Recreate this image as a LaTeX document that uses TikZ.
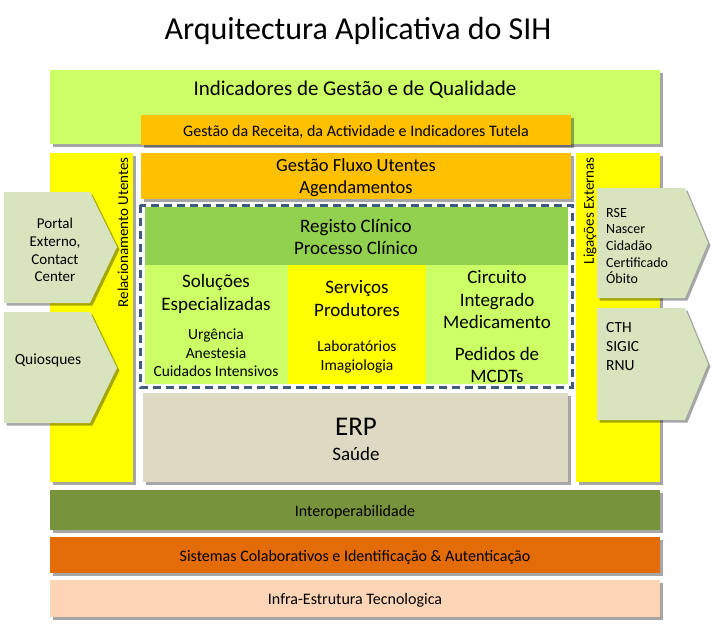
\documentclass[tikz,border=0pt]{standalone}
\usepackage{fontspec}
\setmainfont{Carlito}
\usetikzlibrary{shadows}
\definecolor{lgreen}{HTML}{CCFF66}
\definecolor{gold}{HTML}{FFC000}
\definecolor{yel}{HTML}{FFFF00}
\definecolor{mgreen}{HTML}{92D050}
\definecolor{erpc}{HTML}{DDD9C3}
\definecolor{olivec}{HTML}{77933C}
\definecolor{orngc}{HTML}{E36C09}
\definecolor{peachc}{HTML}{FBD5B5}
\definecolor{sagec}{HTML}{D7E4BD}
\definecolor{dashblue}{HTML}{3F5A80}
\begin{document}
\begin{tikzpicture}[x=1pt,y=-1pt,
  shd/.style={drop shadow={shadow xshift=2.5pt,shadow yshift=-2.5pt,opacity=0.35,fill=black}},
  box/.style={anchor=north west, inner sep=0pt, outer sep=0pt, draw=none},
  sbox/.style={box, shd},
  rtxt/.style={inner sep=0pt, align=center, text=black},
  txt/.style={rtxt, yshift=-2pt},
  fsmall/.style={font=\fontsize{16}{19}\selectfont},
  fside/.style={font=\fontsize{15}{18}\selectfont},
  fmid/.style={font=\fontsize{18.5}{22}\selectfont},
  arrowshape/.style={fill=sagec, shd}
]
\useasboundingbox (0,0) rectangle (719,627);

% title
\node[txt, font=\fontsize{32}{36}\selectfont] (title) at (358,29) {Arquitectura Aplicativa do SIH};

% side columns
\node[sbox, fill=yel, minimum width=83pt, minimum height=329pt] (lcol) at (50,153) {};
\node[sbox, fill=yel, minimum width=84pt, minimum height=329pt] (rcol) at (576,153) {};
\node[rtxt, fside, rotate=90, anchor=east] (rel) at (123,157) {Relacionamento Utentes};
\node[rtxt, fside, rotate=90, anchor=east] (lig) at (590,157) {Ligações Externas};

% top
\node[sbox, fill=lgreen, minimum width=610pt, minimum height=74pt] (ind) at (50,70) {};
\node[txt, font=\fontsize{21}{24}\selectfont] (indt) at (355,88) {Indicadores de Gestão e de Qualidade};
\node[sbox, fill=gold, minimum width=430pt, minimum height=30pt] (rec) at (141,115) {};
\node[txt, fsmall] (rect) at (356,130) {Gestão da Receita, da Actividade e Indicadores Tutela};

\node[sbox, fill=gold, minimum width=430pt, minimum height=46pt] (flux) at (141,153) {};
\node[txt, fmid] (fluxt) at (356,176) {Gestão Fluxo Utentes\\Agendamentos};

% clinical block
\node[box, fill=white, minimum width=432pt, minimum height=182pt] (clinbg) at (140,205) {};
\node[box, fill=mgreen, minimum width=423pt, minimum height=58pt] (reg) at (145,207) {};
\node[txt, font=\fontsize{19}{22}\selectfont] (regt) at (356,235) {Registo Clínico\\Processo Clínico};
\node[box, fill=lgreen, minimum width=143pt, minimum height=119pt] (sol) at (145,265) {};
\node[box, fill=yel, minimum width=138pt, minimum height=119pt] (serv) at (288,265) {};
\node[box, fill=lgreen, minimum width=142pt, minimum height=119pt] (circ) at (426,265) {};
\node[txt, font=\fontsize{19}{23}\selectfont] (solt) at (216,292) {Soluções\\Especializadas};
\node[txt, font=\fontsize{15.5}{18.5}\selectfont] (solsub) at (216,351) {Urgência\\Anestesia\\Cuidados Intensivos};
\node[txt, font=\fontsize{19}{23}\selectfont] (servt) at (357,297) {Serviços\\Produtores};
\node[txt, font=\fontsize{15.5}{19}\selectfont] (servsub) at (357,355) {Laboratórios\\Imagiologia};
\node[txt, font=\fontsize{19}{22.5}\selectfont] (circt) at (497,298) {Circuito\\Integrado\\Medicamento};
\node[txt, font=\fontsize{19}{22}\selectfont] (ped) at (497,363) {Pedidos de\\MCDTs};
\draw[dashblue, line width=3pt, dash pattern=on 8pt off 5pt] (clinbg.north west) rectangle (clinbg.south east);

% ERP
\node[sbox, fill=erpc, minimum width=425pt, minimum height=89pt] (erp) at (143,393) {};
\node[txt, font=\fontsize{27}{30}\selectfont] (erpt) at (356,425) {ERP};
\node[txt, font=\fontsize{19}{22}\selectfont] (sau) at (356,452) {Saúde};

% bottom layers
\node[sbox, fill=olivec, minimum width=610pt, minimum height=40pt] (inter) at (50,490) {};
\node[txt, fsmall] (intert) at (inter.center) {Interoperabilidade};
\node[sbox, fill=orngc, minimum width=610pt, minimum height=36pt] (sist) at (50,537) {};
\node[txt, fsmall] (sistt) at (sist.center) {Sistemas Colaborativos e Identificação \& Autenticação};
\node[sbox, fill=peachc, minimum width=610pt, minimum height=37pt] (infra) at (50,580) {};
\node[txt, fsmall] (infrat) at (infra.center) {Infra-Estrutura Tecnologica};

% left arrows
\path[arrowshape] (4,192) -- (90,192) -- (117,247) -- (90,303) -- (4,303) -- cycle;
\node[txt, font=\fontsize{15}{17.7}\selectfont] (portal) at (55,248) {Portal\\Externo,\\Contact\\Center};
\path[arrowshape] (4,312) -- (90,312) -- (117,368) -- (90,423) -- (4,423) -- cycle;
\node[txt, font=\fontsize{15.5}{18}\selectfont] (quio) at (48,358) {Quiosques};

% right arrows
\path[arrowshape] (597,188) -- (685,188) -- (708,243) -- (685,298) -- (597,298) -- cycle;
\node[txt, align=left, anchor=west, font=\fontsize{14}{16.7}\selectfont] (rse) at (606,244) {RSE\\Nascer\\Cidadão\\Certificado\\Óbito};
\path[arrowshape] (597,308) -- (685,308) -- (708,364) -- (685,420) -- (597,420) -- cycle;
\node[txt, align=left, anchor=west, font=\fontsize{15.5}{19}\selectfont] (cth) at (606,345) {CTH\\SIGIC\\RNU};
\end{tikzpicture}
\end{document}
